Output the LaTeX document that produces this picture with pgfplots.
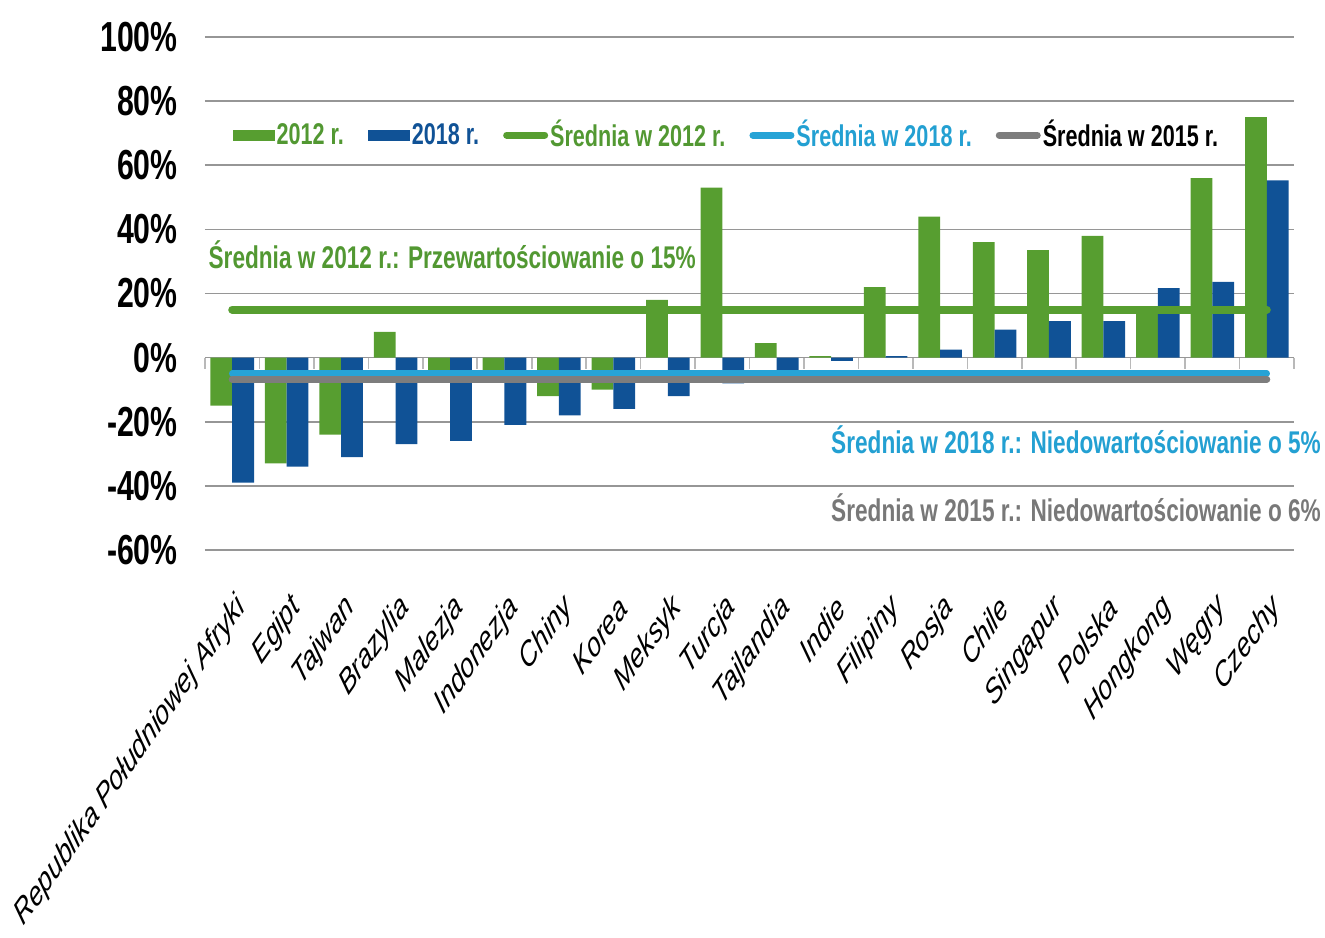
\documentclass[border=0pt]{standalone}
\usepackage{fontspec}
\setmainfont{Liberation Sans}
\newfontfamily\cond[FakeStretch=0.72]{Liberation Sans}
\usepackage{pgfplots}
\pgfplotsset{compat=1.18}

\definecolor{cGreen}{RGB}{87,158,48}
\definecolor{cBlue}{RGB}{16,82,150}
\definecolor{cLight}{RGB}{38,163,214}
\definecolor{cGray}{RGB}{125,125,125}
\definecolor{cGrid}{RGB}{150,150,150}
\definecolor{cTick}{RGB}{185,185,185}
\definecolor{tGreen}{RGB}{82,152,50}
\definecolor{tLight}{RGB}{35,160,210}
\definecolor{tGray}{RGB}{120,120,120}

\newcommand\ytk{\cond\bfseries\fontsize{21}{24}\selectfont}
\newcommand\leg{\cond\bfseries\fontsize{15}{18}\selectfont}
\newcommand\ann{\cond\bfseries\fontsize{15.7}{18}\selectfont}
\newcommand\xlab{\itshape\fontsize{12.2}{14}\selectfont}

\begin{document}
\begin{tikzpicture}
\useasboundingbox (-102.5pt,-193.5pt) rectangle (560pt,275pt);
\begin{axis}[
    at={(0pt,0pt)}, anchor=south west,
    scale only axis, width=544.5pt, height=256.5pt,
    xmin=-0.5, xmax=19.5, ymin=-60, ymax=100,
    clip=false,
    axis line style={draw=none},
    tick style={draw=none},
    ymajorgrids, grid style={cGrid, line width=0.8pt},
    ytick={-60,-40,...,100},
    yticklabels={-60\%,-40\%,-20\%,0\%,20\%,40\%,60\%,80\%,100\%},
    yticklabel style={font=\ytk, anchor=east, inner sep=0pt, xshift=-13.5pt},
    xtick={0,...,19},
    xticklabels={Republika Południowej Afryki, Egipt, Tajwan, Brazylia, Malezja,
        Indonezja, Chiny, Korea, Meksyk, Turcja, Tajlandia, Indie, Filipiny,
        Rosja, Chile, Singapur, Polska, Hongkong, Węgry, Czechy},
    xticklabel style={font=\xlab, anchor=east, inner sep=0pt,
        yshift=-26pt, xshift=5pt, yscale=1.43, rotate=45},
    legend columns=5,
    legend style={at={(axis cs:0,69.4)}, anchor=west, draw=none, fill=none,
        font=\leg, inner sep=0pt, nodes={inner sep=1pt},
        /tikz/every even column/.append style={column sep=11pt}},
]

% 2012
\addplot[ybar, bar width=0.4, bar shift=-0.2, fill=cGreen, draw=none,
    legend image code/.code={\fill[cGreen] (0pt,-2.7pt) rectangle (21pt,2.7pt);}]
coordinates {
    (0,-15) (1,-33) (2,-24) (3,8) (4,-5.5) (5,-5.5) (6,-12) (7,-10)
    (8,18) (9,53) (10,4.5) (11,0.5) (12,22) (13,44) (14,36) (15,33.5)
    (16,38) (17,16) (18,56) (19,75)
};
\addlegendentry{\textcolor{tGreen}{2012 r.}}

% 2018
\addplot[ybar, bar width=0.4, bar shift=0.2, fill=cBlue, draw=none,
    legend image code/.code={\fill[cBlue] (0pt,-2.7pt) rectangle (21pt,2.7pt);}]
coordinates {
    (0,-39) (1,-34) (2,-31) (3,-27) (4,-26) (5,-21) (6,-18) (7,-16)
    (8,-12) (9,-8) (10,-4.5) (11,-1) (12,0.5) (13,2.5) (14,8.7) (15,11.4)
    (16,11.4) (17,21.7) (18,23.6) (19,55.3)
};
\addlegendentry{\textcolor{cBlue}{2018 r.}}

% averages
\addplot[cGreen, line width=4pt, line cap=round, no marks,
    legend image code/.code={\draw[cGreen, line width=3.5pt, line cap=round] (1pt,0pt) -- (20pt,0pt);}]
coordinates {(0,15) (19,15)};
\addlegendentry{\textcolor{tGreen}{Średnia w 2012 r.}}

\addplot[cLight, line width=3.2pt, line cap=round, no marks,
    legend image code/.code={\draw[cLight, line width=3.5pt, line cap=round] (1pt,0pt) -- (20pt,0pt);}]
coordinates {(0,-5) (19,-5)};
\addlegendentry{\textcolor{tLight}{Średnia w 2018 r.}}

\addplot[cGray, line width=3.5pt, line cap=round, no marks,
    legend image code/.code={\draw[cGray, line width=3.5pt, line cap=round] (1pt,0pt) -- (20pt,0pt);}]
coordinates {(0,-6.7) (19,-6.7)};
\addlegendentry{\textcolor{black}{Średnia w 2015 r.}}

% small ticks on the zero line between categories
\pgfplotsinvokeforeach{0,...,20}{
    \draw[cTick, line width=0.8pt] (axis cs:#1-0.5,0) -- ++(0pt,-5.5pt);
}

\node[anchor=west, inner sep=0pt, text=tGreen, font=\ann] at (axis cs:-0.44,32)
    {Średnia w 2012 r.: Przewartościowanie o 15\%};
\node[anchor=east, inner sep=0pt, text=tLight, font=\ann] at (axis cs:20.0,-25.7)
    {Średnia w 2018 r.: Niedowartościowanie o 5\%};
\node[anchor=east, inner sep=0pt, text=tGray, font=\ann] at (axis cs:20.0,-46.9)
    {Średnia w 2015 r.: Niedowartościowanie o 6\%};
\end{axis}
\end{tikzpicture}
\end{document}
